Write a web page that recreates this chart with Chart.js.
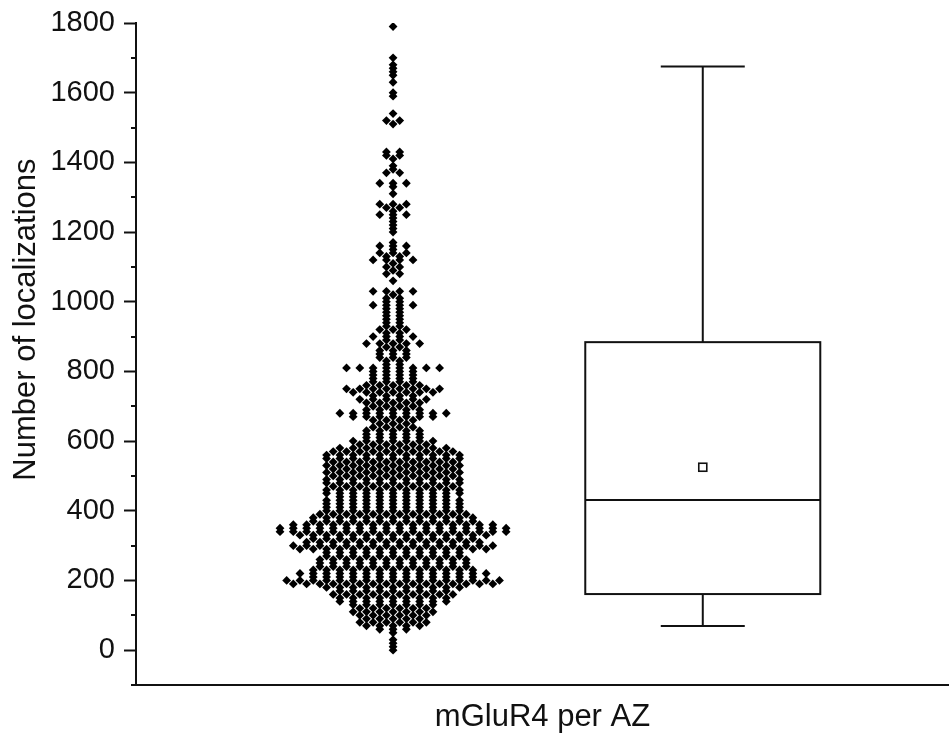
<!DOCTYPE html>
<html>
<head>
<meta charset="utf-8">
<script src="https://cdn.jsdelivr.net/npm/chart.js@4.4.1/dist/chart.umd.min.js"></script>
<style>
  html, body { margin: 0; padding: 0; background: #fff; }
</style>
</head>
<body>
<canvas id="chart" width="949" height="738"></canvas>
<script>
// number of localizations, binned in steps of 10 -> one row of dots per bin
const swarmLevels = [
  0, 10, 20, 30, 50, 60, 70, 80, 90, 100, 110, 120, 130, 140, 150, 160, 170, 180,
  190, 200, 210, 220, 230, 240, 250, 260, 270, 280, 290, 300, 310, 320, 330, 340,
  350, 360, 370, 380, 390, 400, 410, 420, 430, 440, 450, 460, 470, 480, 490, 500,
  510, 520, 530, 540, 550, 560, 570, 580, 590, 600, 610, 620, 630, 640, 650, 660,
  670, 680, 690, 700, 710, 720, 730, 740, 750, 760, 770, 780, 790, 800, 810, 820,
  830, 840, 850, 860, 870, 880, 890, 900, 910, 920, 930, 940, 950, 960, 970, 980,
  990, 1000, 1010, 1020, 1030, 1060, 1080, 1090, 1100, 1110, 1120, 1130, 1140, 1150,
  1160, 1170, 1200, 1210, 1220, 1230, 1240, 1250, 1260, 1270, 1280, 1310, 1330, 1340,
  1370, 1380, 1390, 1410, 1420, 1430, 1510, 1520, 1540, 1590, 1600, 1630, 1650, 1660,
  1670, 1680, 1700, 1790
];
const swarmCounts = [
  1, 1, 1, 1, 1, 3, 5, 6, 5, 6, 7, 6, 7, 9, 9, 10, 9, 11,
  16, 17, 13, 15, 13, 12, 12, 12, 11, 11, 15, 16, 14, 13, 15, 18,
  18, 16, 13, 13, 12, 11, 11, 11, 11, 9, 11, 11, 10, 11, 11, 10,
  11, 10, 11, 10, 11, 11, 10, 9, 6, 7, 5, 5, 5, 4, 3, 4,
  7, 9, 5, 4, 5, 6, 4, 7, 8, 5, 4, 4, 4, 4, 8, 2,
  2, 3, 3, 3, 2, 5, 2, 4, 2, 3, 2, 2, 2, 2, 2, 2,
  4, 2, 2, 1, 4, 1, 2, 1, 2, 1, 4, 2, 3, 1,
  3, 1, 1, 1, 1, 1, 1, 3, 1, 2, 3, 1, 1, 3,
  2, 1, 1, 1, 2, 2, 1, 2, 1, 1, 1, 1, 1, 1,
  1, 1, 1, 1
];

// box: whisker low, box bottom, median, box top, whisker high
const boxLevels = [69, 161, 431, 884, 1675];
const boxMean = [525];

const yLabels = [0, 200, 400, 600, 800, 1000, 1200, 1400, 1600, 1800];

const pxPerUnit = 309.7;
const dotGap = 13.3 / pxPerUnit;
const boxHalf = 117.5 / pxPerUnit;
const capHalf = 42 / pxPerUnit;

const swarmPoints = [];
swarmLevels.forEach((level, i) => {
    const n = swarmCounts[i];
    for (let k = 0; k < n; k++) {
        swarmPoints.push({ x: (k - (n - 1) / 2) * dotGap, y: level });
    }
});

const boxPlot = {
    id: 'boxPlot',
    afterDatasetsDraw(chart) {
        const { ctx, scales: { x, y } } = chart;
        const cx = x.getPixelForValue(1);
        const half = x.getPixelForValue(1 + boxHalf) - cx;
        const cap = x.getPixelForValue(1 + capHalf) - cx;
        const [wLo, q1, med, q3, wHi] = boxLevels.map(v => y.getPixelForValue(v));
        const line = (x1, y1, x2, y2) => {
            ctx.beginPath(); ctx.moveTo(x1, y1); ctx.lineTo(x2, y2); ctx.stroke();
        };
        ctx.save();
        ctx.strokeStyle = '#111';
        ctx.lineWidth = 2;
        line(cx, wHi, cx, q3);
        line(cx, q1, cx, wLo);
        line(cx - cap, wHi, cx + cap, wHi);
        line(cx - cap, wLo, cx + cap, wLo);
        ctx.fillStyle = '#fff';
        ctx.fillRect(cx - half, q3, 2 * half, q1 - q3);
        ctx.strokeRect(cx - half, q3, 2 * half, q1 - q3);
        line(cx - half, med, cx + half, med);
        const my = y.getPixelForValue(boxMean[0]);
        ctx.lineWidth = 1.6;
        ctx.fillRect(cx - 4, my - 4, 8, 8);
        ctx.strokeRect(cx - 4, my - 4, 8, 8);
        ctx.restore();
    },
    afterDraw(chart) {
        // short minor ticks
        const { ctx, scales: { y } } = chart;
        ctx.save();
        ctx.strokeStyle = '#111';
        ctx.lineWidth = 2;
        y.ticks.forEach(t => {
            if (yLabels.includes(t.value)) return;
            const py = Math.round(y.getPixelForValue(t.value));
            ctx.beginPath();
            ctx.moveTo(y.right - 5, py);
            ctx.lineTo(y.right, py);
            ctx.stroke();
        });
        ctx.restore();
    }
};

const family = "'Liberation Sans', Arial, sans-serif";

new Chart(document.getElementById('chart'), {
    type: 'scatter',
    data: {
        datasets: [{
            data: swarmPoints,
            pointStyle: 'rectRot',
            pointRadius: 4.4,
            pointBorderWidth: 0,
            backgroundColor: '#000',
            borderColor: '#000'
        }]
    },
    options: {
        responsive: false,
        animation: false,
        devicePixelRatio: 1,
        layout: { autoPadding: false, padding: { top: 23, right: 0, left: 0, bottom: 0 } },
        plugins: { legend: { display: false }, tooltip: { enabled: false } },
        scales: {
            x: {
                type: 'linear',
                min: -0.83,
                max: 1.795,
                afterFit: s => { s.height = 53; },
                grid: { display: false, drawTicks: false },
                border: { display: true, color: '#111', width: 2 },
                ticks: { display: false },
                title: {
                    display: true,
                    text: 'mGluR4 per AZ',
                    color: '#111',
                    font: { family: family, size: 31 },
                    padding: { top: 0, bottom: 2 }
                }
            },
            y: {
                min: -100,
                max: 1800,
                afterFit: s => { s.width = 136; s.paddingTop = 0; s.paddingBottom = 0; },
                grid: {
                    drawOnChartArea: false,
                    tickLength: 12,
                    tickWidth: 2,
                    tickColor: ctx => yLabels.includes(ctx.tick.value) ? '#111' : 'rgba(0,0,0,0)'
                },
                border: { display: true, color: '#111', width: 2 },
                ticks: {
                    stepSize: 100,
                    autoSkip: false,
                    padding: 9,
                    color: '#111',
                    font: { family: family, size: 29 },
                    callback: v => yLabels.includes(v) ? String(v) : ''
                },
                title: {
                    display: true,
                    text: '        Number of localizations',
                    color: '#111',
                    font: { family: family, size: 31 },
                    padding: { top: 8, bottom: 0 }
                }
            }
        }
    },
    plugins: [boxPlot]
});
</script>
</body>
</html>
